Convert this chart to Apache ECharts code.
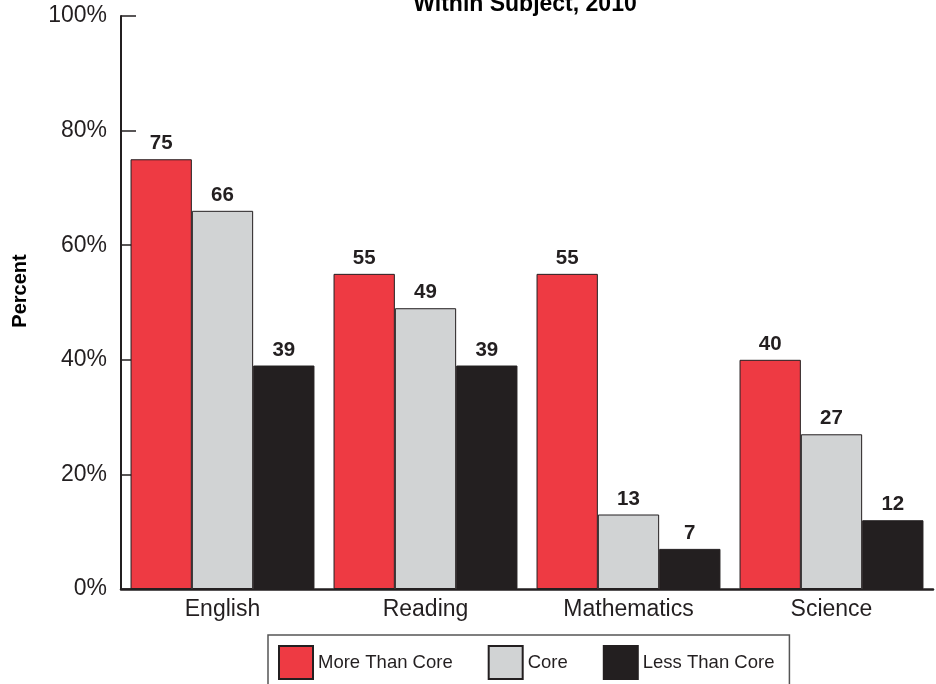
<!DOCTYPE html>
<html>
<head>
<meta charset="utf-8">
<script src="https://cdn.jsdelivr.net/npm/echarts@6/dist/echarts.min.js"></script>
<style>html,body{margin:0;padding:0;background:#fff;}#c{width:936px;height:684px;}</style>
</head>
<body>
<div id="c"></div>
<script>
var categories = ['English', 'Reading', 'Mathematics', 'Science'];
var moreThanCore = [75, 55, 55, 40];
var core = [66, 49, 13, 27];
var lessThanCore = [39, 39, 7, 12];
var seriesNames = ['More Than Core', 'Core', 'Less Than Core'];
var yTicks = [0, 20, 40, 60, 80, 100];
var titleText = 'Within Subject, 2010';

var FONT = 'Liberation Sans, Arial, Helvetica, sans-serif';
var INK = '#231F20';
var colors = ['#EE3A43', '#D1D3D4', '#231F20'];

function mkSeries(name, data, color) {
  return {
    name: name, type: 'bar', data: data,
    barGap: '0%', barCategoryGap: '9.4%',
    itemStyle: { color: color, borderColor: INK, borderWidth: 1 },
    label: { show: true, position: 'top', distance: 5, color: INK, fontFamily: FONT, fontWeight: 'bold', fontSize: 20.5 },
    emphasis: { disabled: true }
  };
}

var chart = echarts.init(document.getElementById('c'), null, { renderer: 'canvas' });
chart.setOption({
  animation: false,
  graphic: [
    { type: 'text', x: 525, y: 5, style: { text: titleText, fill: '#000', font: 'bold 23px ' + FONT, textAlign: 'center', textVerticalAlign: 'middle' } },
    { type: 'text', x: 20, y: 291, rotation: Math.PI / 2, style: { text: 'Percent', fill: '#000', font: 'bold 20px ' + FONT, textAlign: 'center', textVerticalAlign: 'middle' } }
  ],
  legend: {
    data: seriesNames,
    left: 268, top: 635,
    orient: 'horizontal',
    padding: [10, 15, 10, 10],
    itemGap: 35,
    itemWidth: 34, itemHeight: 33,
    icon: 'rect',
    borderColor: '#555', borderWidth: 1.5,
    textStyle: { color: INK, fontFamily: FONT, fontSize: 18.5 }
  },
  grid: { left: 121, right: 3, top: 16, bottom: 95, containLabel: false },
  xAxis: {
    type: 'category', data: categories,
    axisLine: { lineStyle: { color: INK, width: 2.5 } },
    axisTick: { show: false },
    axisLabel: { color: INK, fontFamily: FONT, fontSize: 23, margin: 9 }
  },
  yAxis: {
    type: 'value', min: yTicks[0], max: yTicks[yTicks.length - 1], interval: 20,
    axisLine: { show: true, lineStyle: { color: INK, width: 2 } },
    axisTick: { show: true, inside: true, length: 15, lineStyle: { color: INK, width: 1.5 } },
    splitLine: { show: false },
    axisLabel: { color: INK, fontFamily: FONT, fontSize: 23, margin: 14, formatter: '{value}%' }
  },
  series: [
    mkSeries(seriesNames[0], moreThanCore, colors[0]),
    mkSeries(seriesNames[1], core, colors[1]),
    mkSeries(seriesNames[2], lessThanCore, colors[2])
  ]
});
</script>
</body>
</html>
